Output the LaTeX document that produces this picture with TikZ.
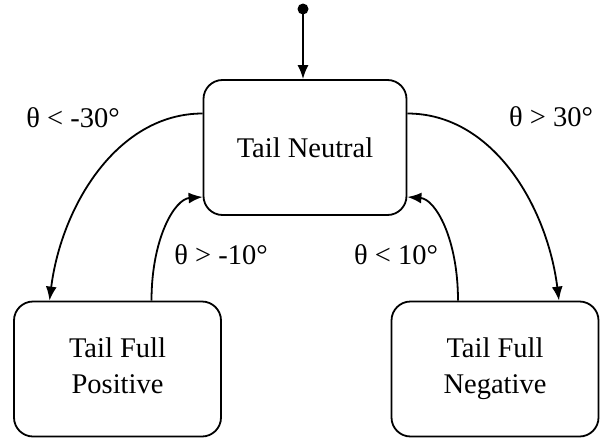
\documentclass[tikz,border=0pt]{standalone}
\usepackage{fontspec}
\setmainfont{Liberation Serif}
\usetikzlibrary{arrows.meta}
\begin{document}
\begin{tikzpicture}[x=1pt,y=-1pt,
  state/.style={draw,line width=1.8pt,rounded corners=19pt,minimum width=203pt,minimum height=135pt,align=center,font=\fontsize{28.5}{36}\selectfont,inner sep=0pt},
  conn/.style={line width=1.8pt,-{Latex[length=14pt,width=11pt]}},
  lbl/.style={font=\fontsize{28.5}{30}\selectfont,inner sep=0pt}]
\useasboundingbox (0,0) rectangle (605,439);
\node[state] (tn) at (305,147.5) {Tail Neutral};
\node[state,minimum width=207pt] (fp) at (117.5,369) {Tail Full\\Positive\vphantom{g}};
\node[state,minimum width=207pt] (fn) at (495,369) {Tail Full\\Negative};
\fill (303,9) circle (5.5pt) coordinate (init);
\draw[conn] (init) -- (init |- tn.north);
% big arcs
\draw[conn] ([yshift=34pt]tn.west) .. controls +(-85,0) and +(12,-95) .. ([xshift=-68pt]fp.north);
\draw[conn] ([yshift=34pt]tn.east) .. controls +(85,0) and +(-12,-95) .. ([xshift=64pt]fn.north);
% small arcs
\draw[conn] ([xshift=34pt]fp.north) .. controls +(0,-62) and +(-28,2) .. ([yshift=-49.5pt]tn.west);
\draw[conn] ([xshift=-37pt]fn.north) .. controls +(0,-62) and +(28,2) .. ([yshift=-49.5pt]tn.east);
\node[lbl] (l1) at (73,118) {θ < -30°};
\node[lbl] (l2) at (551,117) {θ > 30°};
\node[lbl] (l3) at (221,255) {θ > -10°};
\node[lbl] (l4) at (396,255) {θ < 10°};
\end{tikzpicture}
\end{document}
